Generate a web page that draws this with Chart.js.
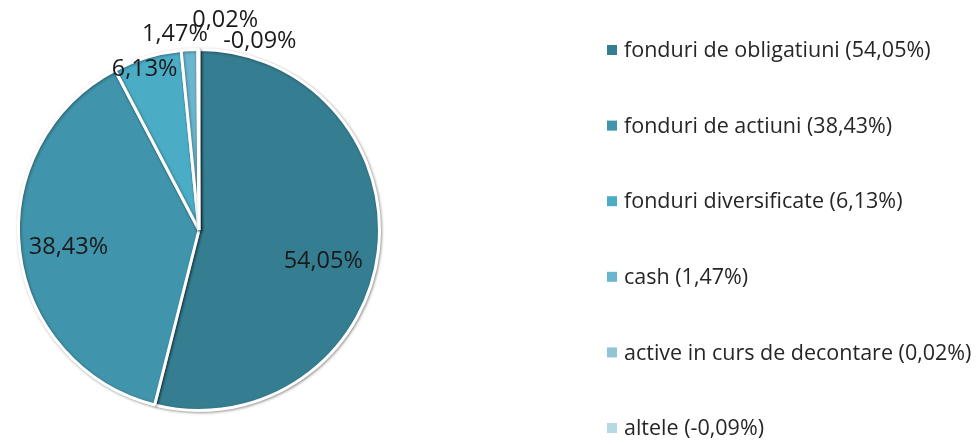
<!DOCTYPE html>
<html>
<head>
<meta charset="utf-8">
<script src="https://cdn.jsdelivr.net/npm/chart.js@4/dist/chart.umd.min.js"></script>
<style>
  html, body { margin: 0; padding: 0; background: #fff; overflow: hidden; }
  #wrap { width: 976px; height: 444px; }
</style>
</head>
<body>
<div id="wrap"><canvas id="alloc_chart" width="976" height="444"></canvas></div>
<script>
// asset allocation shares
const categories = [
    "fonduri de obligatiuni", "fonduri de actiuni", "fonduri diversificate",
    "cash", "active in curs de decontare", "altele"
];
const shares = [54.05, 38.43, 6.13, 1.47, 0.02, -0.09];
const sliceColors = ["#357d91", "#4094ab", "#4bacc6", "#6ab6cf", "#93c4d6", "#b8d9e4"];

const fmt = (v) => v.toFixed(2).replace(".", ",") + "%";
const FONT = "'Open Sans', sans-serif";

// where each value label sits: fraction of radius along the slice, plus a small angle shift (deg)
const labelPlace = [
    { r: 0.71, da: 7 }, { r: 0.73, da: -1 }, { r: 0.94, da: -2 },
    { r: 1.09, da: -4 }, { r: 1.17, da: 7.5 }, { r: 1.10, da: 18 }
];

const pieLabels = {
    id: "pieLabels",
    afterDatasetsDraw(chart) {
        const c = chart.ctx;
        const meta = chart.getDatasetMeta(0);
        c.save();
        c.font = "23.5px " + FONT;
        c.fillStyle = "#1a1a1a";
        c.textAlign = "center";
        c.textBaseline = "middle";
        meta.data.forEach((arc, i) => {
            const p = arc.getProps(["x", "y", "startAngle", "endAngle", "outerRadius"], true);
            const a = (p.startAngle + p.endAngle) / 2 + labelPlace[i].da * Math.PI / 180;
            const r = p.outerRadius * labelPlace[i].r;
            c.fillText(fmt(shares[i]), p.x + Math.cos(a) * r, p.y + Math.sin(a) * r);
        });
        c.restore();
    }
};

const sideLegend = {
    id: "sideLegend",
    afterDraw(chart) {
        const c = chart.ctx;
        const x0 = 607, top = 50, step = 75.6;
        c.save();
        c.font = "21.5px " + FONT;
        c.textBaseline = "middle";
        categories.forEach((name, i) => {
            const y = top + i * step;
            c.fillStyle = sliceColors[i];
            c.fillRect(x0, y - 5, 10, 10);
            c.fillStyle = "#262626";
            c.fillText(name + " (" + fmt(shares[i]) + ")", x0 + 17, y + 1);
        });
        c.restore();
    }
};

const pieShadow = {
    id: "pieShadow",
    beforeDatasetsDraw(chart) {
        chart.ctx.save();
        chart.ctx.shadowColor = "rgba(0,0,0,0.35)";
        chart.ctx.shadowBlur = 3;
        chart.ctx.shadowOffsetX = 1;
        chart.ctx.shadowOffsetY = 1;
    },
    afterDatasetsDraw(chart) {
        chart.ctx.restore();
    }
};

const ctx = document.getElementById("alloc_chart").getContext("2d");
new Chart(ctx, {
    type: "pie",
    data: {
        labels: categories,
        datasets: [{
            data: shares,
            backgroundColor: sliceColors,
            borderColor: "#ffffff",
            borderWidth: 3
        }]
    },
    options: {
        responsive: false,
        animation: false,
        layout: { padding: { left: 17, top: 48, bottom: 32, right: 595 } },
        plugins: {
            legend: { display: false },
            tooltip: { enabled: false }
        }
    },
    plugins: [pieShadow, pieLabels, sideLegend]
});
</script>
</body>
</html>
